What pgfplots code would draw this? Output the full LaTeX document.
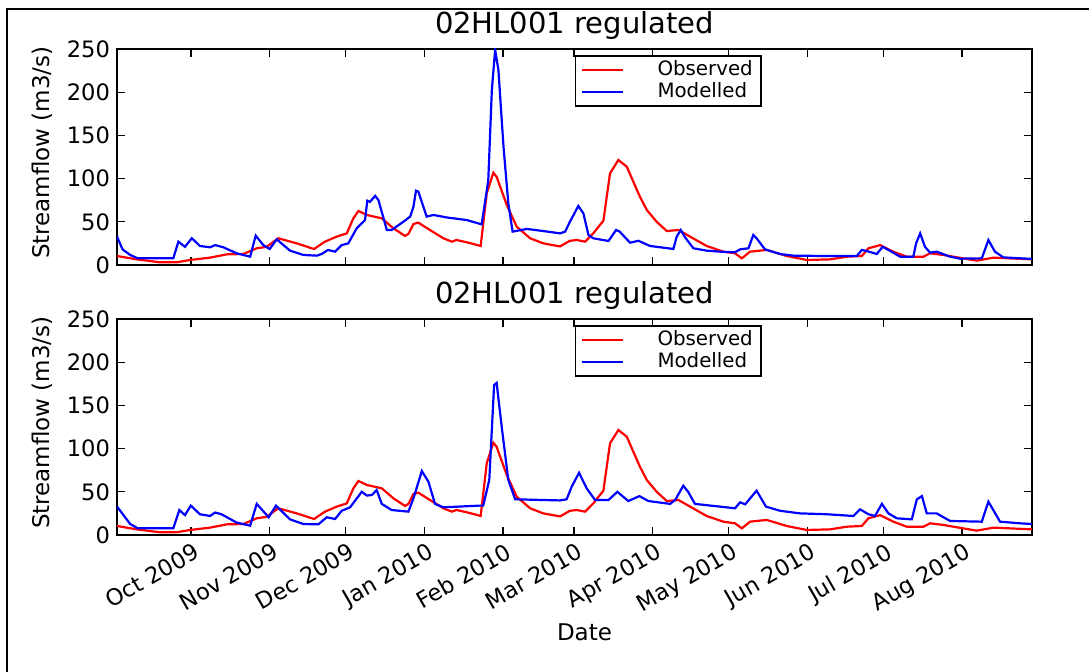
\documentclass[border=0pt]{standalone}
\usepackage{pgfplots}
\pgfplotsset{compat=1.18}
\usepackage{fontspec}
\setmainfont{DejaVu Sans}
\pgfplotsset{
  panel/.style={
    scale only axis, width=457.5pt, height=108pt,
    xmin=-29.2, xmax=331.6, ymin=0, ymax=250,
    xtick={0,31,61,92,123,151,182,212,243,273,304},
    ytick={0,50,100,150,200,250},
    tick align=inside, xtick pos=both, ytick pos=both,
    major tick length=4pt,
    every tick/.style={line width=0.6pt, black},
    axis line style={line width=1pt},
    /pgf/number format/assume math mode=true,
    tick label style={font=\fontsize{11.3}{13}\selectfont},
    title style={font=\fontsize{14.5}{17}\selectfont, at={(0.5,1)}, anchor=base, yshift=1.5pt},
    title={02HL001 regulated},
    ylabel={Streamflow (m3/s)},
    ylabel style={font=\fontsize{11.5}{13}\selectfont, at={(axis description cs:-0.082,0.52)}, anchor=center},
    legend style={at={(0.5,0.972)}, anchor=north west, font=\fontsize{9.9}{12}\selectfont,
      draw=black, line width=0.8pt, inner xsep=3pt, inner ysep=1.5pt,
      nodes={inner sep=1pt}},
    legend cell align=left,
    legend image code/.code={\draw[#1] (0pt,0pt) -- (20.5pt,0pt); \path (36pt,0pt);},
    every axis plot/.append style={line width=1.1pt},
  }
}
\begin{document}
\begin{tikzpicture}
\useasboundingbox (0,0) rectangle (544.5pt,336pt);
\draw[line width=1pt] (3.5pt,0pt) -- (3.5pt,331.5pt) -- (544.5pt,331.5pt);
\begin{axis}[panel, at={(58.5pt,203.5pt)}, anchor=south west, xticklabels={}]
\addplot[red] coordinates {(-29.2,10.4) (-21.4,6.5) (-12.2,3.1) (-5.7,3.1) (-0.4,5.8) (7.5,8.5) (14.1,12.3) (20.6,12.7) (25.9,19.3) (29.8,21) (34.4,30.9) (41.7,25) (48.5,18.5) (52.8,27) (57.4,32.8) (61.4,36.6) (64,54) (66,62.5) (69.3,57.9) (75.2,54) (79.8,42.4) (84.4,33.6) (85.7,36) (87.7,47.4) (89.6,49) (94.2,40.5) (99.5,30.9) (102.8,27) (104.7,28.9) (109.4,25.8) (114.2,22) (116.6,83) (119.2,106.8) (120.5,102) (124.5,69.4) (128.4,44.4) (133.7,30.9) (138.9,25) (145.5,21.5) (149.4,28) (152.1,28.9) (155.4,27) (158.6,36.6) (162.6,51.3) (165.2,106) (168.5,121.5) (171.8,113.8) (177,79) (179.7,63.7) (183.6,50) (187.6,39.3) (192.2,40.5) (196.8,32.8) (203.3,22) (209.9,15.4) (214.5,13.5) (217.2,7.7) (220.4,15.4) (227,17.4) (234.9,10.4) (242.8,5.8) (252,6.5) (258.6,9.6) (264.5,10.4) (267.1,19.3) (271.7,23) (276.9,15.4) (282.2,9.6) (288.8,9.6) (291.4,13.5) (296.7,11.6) (300.6,9.6) (309.8,5) (316.4,8.5) (331.6,6.5)};
\addlegendentry{Observed}
\addplot[blue] coordinates {(-29.2,33) (-27,18) (-24,11.6) (-21,7.7) (-7,7.7) (-5,27) (-2.4,21) (0.3,31) (3.5,22) (7.5,20.5) (9.5,23) (12.7,20.5) (18,13.5) (23.3,9.6) (25.5,34) (28.5,23) (31,18.5) (33.8,29.7) (39,16.6) (44.3,11.6) (49.6,10.8) (51.5,12.7) (54,17.4) (56.8,15.4) (59.4,23) (62,25) (65.3,42.4) (68.6,52) (69.5,74.4) (70.5,73) (72.6,80) (73.9,75) (77.2,40.5) (79.1,40.5) (83.7,50) (86.4,56) (87.7,67.5) (88.7,86) (89.6,85) (92.9,56) (95.6,57.9) (100.8,55) (108.7,52) (114.6,47) (117.2,98) (118.6,202) (119.9,249) (121.2,225.7) (123.2,137) (125.1,71.4) (126.8,38.6) (132.4,41.7) (138.9,39.3) (145.5,36.6) (147.5,38.6) (149.4,50) (152.7,68.3) (154.7,59.8) (156.7,34.7) (158.6,30.9) (164.6,27.8) (167.6,40.5) (169,38.6) (173.1,25.8) (176.4,28) (181,22) (185,20.5) (190.2,18.5) (191.5,32.8) (193.1,40.5) (194.8,32) (198.1,19.3) (203.3,16.6) (208.6,15.4) (214.5,14.7) (216.5,18.1) (219.8,19.3) (221.7,34.7) (223,30.9) (226.3,18.1) (232.3,12.7) (237.5,10.8) (250.7,10.4) (262.5,10.4) (264.5,17.4) (266.4,16.2) (270.4,12.7) (272.7,21) (275,17.4) (279.6,9.6) (284.8,9.6) (285.9,25) (287.5,36.6) (289.4,21) (291.4,14.3) (294,15.4) (299.3,9.6) (303.2,7.3) (311.8,7.7) (314.4,28.9) (317,15.4) (320.3,8.8) (331.6,7)};
\addlegendentry{Modelled}
\end{axis}
\begin{axis}[panel, at={(58.5pt,68.5pt)}, anchor=south west,
  xticklabels={Oct 2009,Nov 2009,Dec 2009,Jan 2010,Feb 2010,Mar 2010,Apr 2010,May 2010,Jun 2010,Jul 2010,Aug 2010},
  x tick label style={rotate=30, anchor=north east, xshift=2.5pt},
  xlabel={Date}, xlabel style={font=\fontsize{11.5}{13}\selectfont, xshift=5pt, yshift=4.5pt}]
\addplot[red] coordinates {(-29.2,10.4) (-21.4,6.5) (-12.2,3.1) (-5.7,3.1) (-0.4,5.8) (7.5,8.5) (14.1,12.3) (20.6,12.7) (25.9,19.3) (29.8,21) (34.4,30.9) (41.7,25) (48.5,18.5) (52.8,27) (57.4,32.8) (61.4,36.6) (64,54) (66,62.5) (69.3,57.9) (75.2,54) (79.8,42.4) (84.4,33.6) (85.7,36) (87.7,47.4) (89.6,49) (94.2,40.5) (99.5,30.9) (102.8,27) (104.7,28.9) (109.4,25.8) (114.2,22) (116.6,83) (119.2,106.8) (120.5,102) (124.5,69.4) (128.4,44.4) (133.7,30.9) (138.9,25) (145.5,21.5) (149.4,28) (152.1,28.9) (155.4,27) (158.6,36.6) (162.6,51.3) (165.2,106) (168.5,121.5) (171.8,113.8) (177,79) (179.7,63.7) (183.6,50) (187.6,39.3) (192.2,40.5) (196.8,32.8) (203.3,22) (209.9,15.4) (214.5,13.5) (217.2,7.7) (220.4,15.4) (227,17.4) (234.9,10.4) (242.8,5.8) (252,6.5) (258.6,9.6) (264.5,10.4) (267.1,19.3) (271.7,23) (276.9,15.4) (282.2,9.6) (288.8,9.6) (291.4,13.5) (296.7,11.6) (300.6,9.6) (309.8,5) (316.4,8.5) (331.6,6.5)};
\addlegendentry{Observed}
\addplot[blue] coordinates {(-29.2,33) (-24,12.7) (-21,7.7) (-7,7.7) (-4.6,28.9) (-2.4,23) (-0.1,34) (3.5,24) (7.5,22) (9.5,26) (12,24) (18,14.3) (23.3,10.8) (25.9,36) (30.6,20.5) (33.5,34) (39,18.1) (44.3,12.7) (50.2,12.3) (53.5,20.5) (56.8,18.5) (59.4,28) (62.7,32) (67.3,50) (69.3,45.6) (71.3,46.3) (73.2,52) (75.2,36) (79.1,28.9) (85.7,27) (87.7,42.4) (91,74) (93.6,61.7) (96.2,36) (99.5,32) (113.9,34) (115.2,34) (117.6,63.7) (119.5,173.6) (120.5,176) (122.5,125) (125.1,63.7) (127.8,41.3) (145.5,40) (148.1,41.3) (150.1,56) (153,72) (156,54) (159.3,40.5) (164.6,40.5) (168.1,50) (172.4,39.3) (176.8,45) (180.3,39.3) (188.9,36) (190.9,40.5) (194.1,57) (196,50) (198.7,36) (214.5,30.9) (216.5,37.8) (218.5,35.5) (223,51.3) (226.7,32.8) (232.3,28) (240.1,25) (250.7,24) (261.2,22) (263.8,29.7) (267.1,24) (269.7,22) (272.4,36) (275,25) (278.3,19.3) (284.2,18.1) (286.2,41.3) (288.2,45) (290.1,25) (294,25) (299.3,16.2) (311.8,15.4) (314.4,38.6) (319,15.4) (326.9,13.5) (331.6,12.7)};
\addlegendentry{Modelled}
\end{axis}
\end{tikzpicture}
\end{document}
